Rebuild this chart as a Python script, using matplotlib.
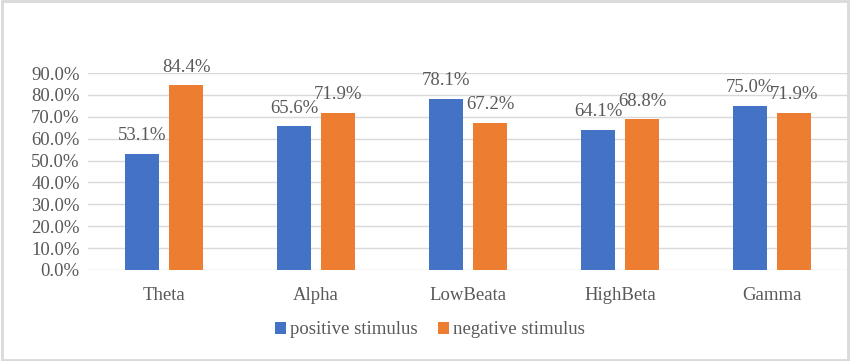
import matplotlib.pyplot as plt
import numpy as np
from matplotlib.patches import Rectangle

bands = ['Theta', 'Alpha', 'LowBeata', 'HighBeta', 'Gamma']
positive = [0.531, 0.656, 0.781, 0.641, 0.750]
negative = [0.844, 0.719, 0.672, 0.688, 0.719]
series_names = ['positive stimulus', 'negative stimulus']
colors = ['#4472C4', '#ED7D31']
text_color = '#595959'

plt.rcParams['font.family'] = ['Liberation Serif', 'DejaVu Serif']

fig = plt.figure(figsize=(8.5, 3.61), dpi=100)
ax = fig.add_axes([88 / 850, 1 - 270 / 361, 760 / 850, (270 - 73) / 361])

x = np.arange(len(bands))
width = 0.22
offset = 0.145
for vals, name, col, sgn in zip([positive, negative], series_names, colors, [-1, 1]):
    bars = ax.bar(x + sgn * offset, vals, width, color=col, label=name, zorder=2)
    for bar, v in zip(bars, vals):
        ax.annotate(f'{v * 100:.1f}%', (bar.get_x() + bar.get_width() / 2, v),
                    xytext=(0, 7), textcoords='offset points',
                    ha='center', va='bottom', fontsize=13.5, color=text_color,
                    annotation_clip=False)

ax.set_xlim(-0.5, len(bands) - 0.5)
ax.set_ylim(0, 0.9)
ax.set_yticks(np.arange(0, 0.91, 0.1))
ax.set_yticklabels([f'{t * 100:.1f}%' for t in np.arange(0, 0.91, 0.1)])
ax.set_xticks(x)
ax.set_xticklabels(bands)
ax.tick_params(axis='both', length=0, labelsize=13.5, colors=text_color)
ax.tick_params(axis='x', pad=12)
ax.tick_params(axis='y', pad=6)
ax.grid(axis='y', color='#d9d9d9', linewidth=1, zorder=0)
for s in ax.spines.values():
    s.set_visible(False)

leg = fig.legend(loc='center', bbox_to_anchor=(430 / 850, 1 - 330 / 361), ncol=2,
                 frameon=False, fontsize=13.5, handlelength=0.6, handleheight=0.6,
                 handletextpad=0.2, columnspacing=1.1, labelcolor=text_color)

fig.patches.append(Rectangle((0.002, 0.003), 0.996, 0.994, transform=fig.transFigure,
                             fill=False, edgecolor='#d9d9d9', linewidth=2))

plt.savefig('out.png', dpi=100)
plt.close()
